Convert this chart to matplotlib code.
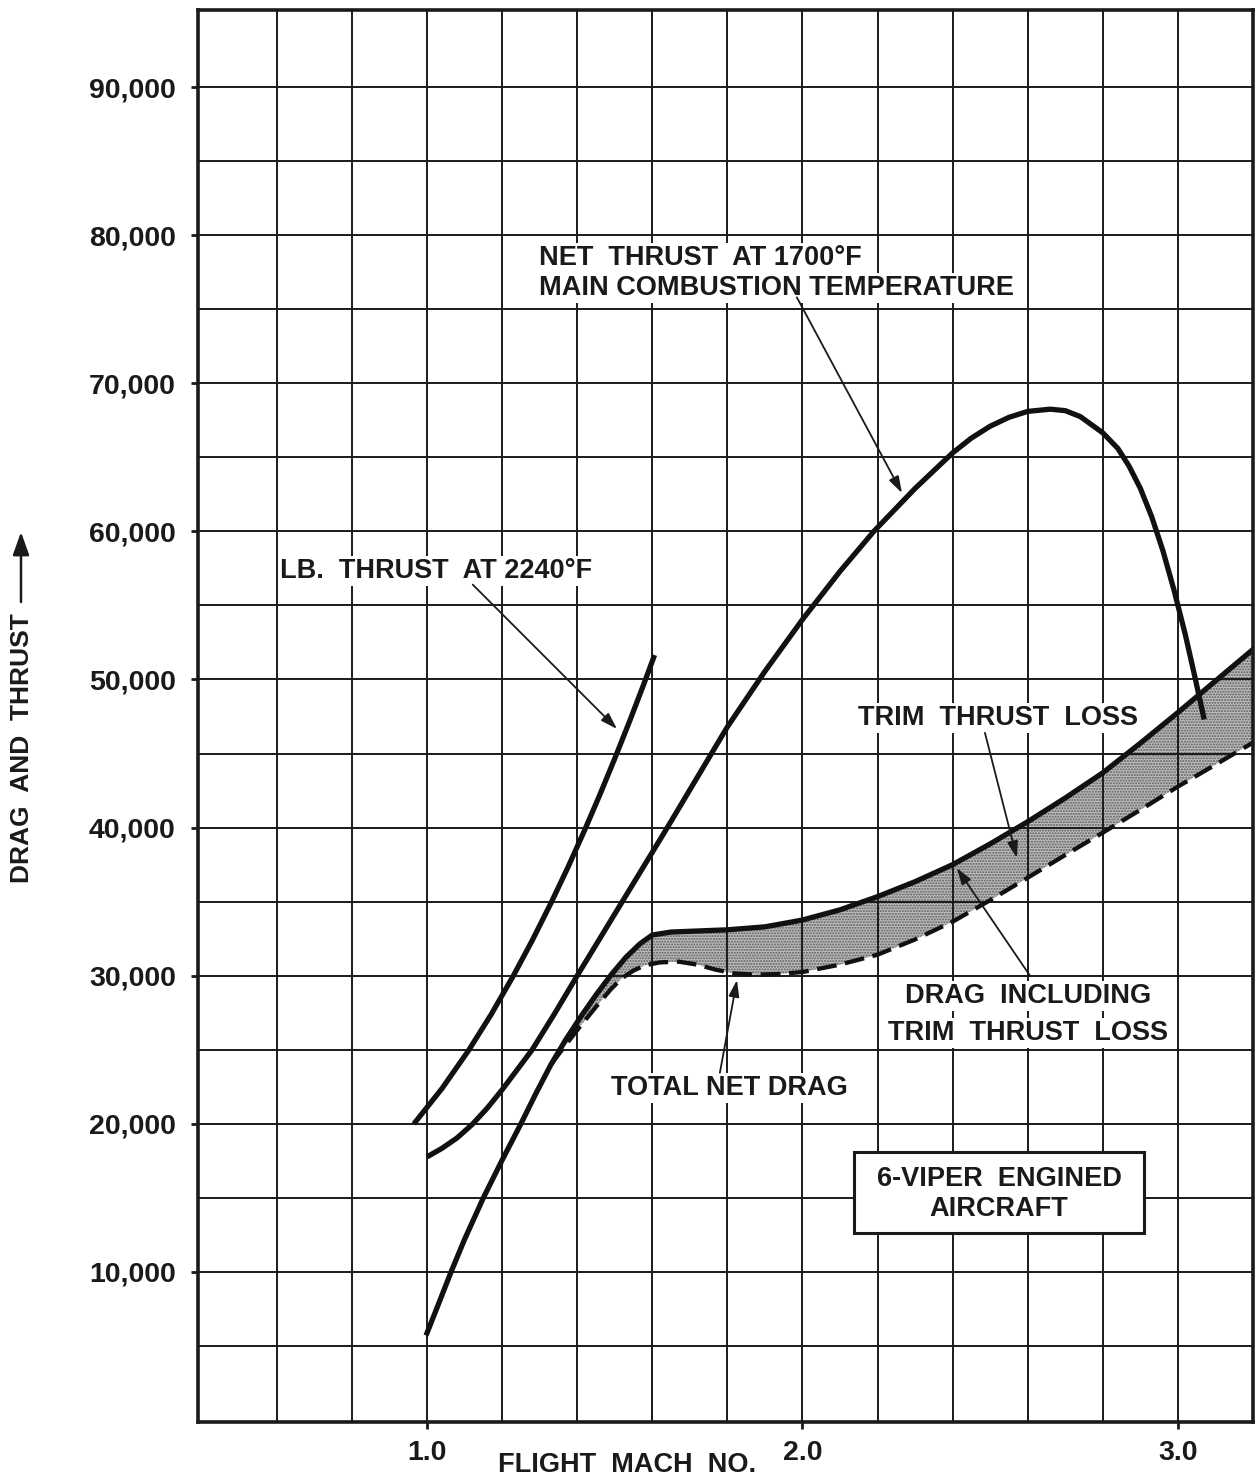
import matplotlib
matplotlib.use('Agg')
import matplotlib.pyplot as plt
from matplotlib.patches import Rectangle, FancyArrowPatch
from matplotlib.ticker import FixedLocator, FuncFormatter

# ---------------- data ----------------
thrust_2240_mach = [0.965, 1.04, 1.11, 1.17, 1.23, 1.28, 1.33, 1.375, 1.42,
                    1.46, 1.50, 1.54, 1.577, 1.606]
thrust_2240_lb = [20000, 22390, 24930, 27350, 30000, 32370, 34900, 37300, 39840,
                  42200, 44660, 47210, 49660, 51650]

thrust_1700_mach = [1.0, 1.04, 1.08, 1.12, 1.16, 1.2, 1.24, 1.28, 1.34, 1.40,
                    1.46, 1.52, 1.58, 1.64, 1.72, 1.8, 1.9, 2.0, 2.1, 2.19, 2.3,
                    2.4, 2.45, 2.5, 2.55, 2.6, 2.66, 2.7, 2.74, 2.8, 2.84, 2.87,
                    2.9, 2.93, 2.96, 2.99, 3.02, 3.045, 3.07]
thrust_1700_lb = [17770, 18350, 19050, 19950, 21050, 22300, 23650, 25000, 27450,
                  30000, 32500, 35000, 37500, 40000, 43400, 46800, 50550, 54050,
                  57300, 60000, 62900, 65300, 66300, 67100, 67700, 68100, 68250,
                  68150, 67750, 66650, 65600, 64400, 62900, 61000, 58700, 56000,
                  53000, 50200, 47300]

drag_trim_mach = [1.0, 1.03, 1.064, 1.1, 1.15, 1.2, 1.25, 1.29, 1.33, 1.37, 1.41,
                  1.45, 1.49, 1.53, 1.567, 1.6, 1.65, 1.7, 1.8, 1.9, 2.0, 2.1,
                  2.2, 2.3, 2.4, 2.5, 2.6, 2.7, 2.8, 2.9, 3.0, 3.1, 3.2]
drag_trim_lb = [5880, 7800, 10000, 12200, 15000, 17550, 20000, 22050, 24000,
                25700, 27250, 28700, 30050, 31250, 32150, 32750, 32950, 33000,
                33100, 33300, 33760, 34450, 35340, 36350, 37500, 38900, 40400,
                42000, 43700, 45700, 47770, 49900, 52030]

net_drag_mach = [1.33, 1.37, 1.41, 1.45, 1.49, 1.52, 1.55, 1.58, 1.62, 1.67,
                 1.72, 1.77, 1.82, 1.88, 1.94, 2.0, 2.1, 2.2, 2.3, 2.4, 2.5,
                 2.6, 2.7, 2.8, 2.9, 3.0, 3.1, 3.2]
net_drag_lb = [24000, 25350, 26650, 27900, 29100, 29850, 30350, 30700, 30900,
               30950, 30750, 30400, 30150, 30070, 30120, 30250, 30750, 31420,
               32450, 33650, 35100, 36620, 38150, 39660, 41200, 42770, 44250,
               45740]

y_major = [10000, 20000, 30000, 40000, 50000, 60000, 70000, 80000, 90000]
y_minor = [5000, 15000, 25000, 35000, 45000, 55000, 65000, 75000, 85000]
x_major = [1.0, 2.0, 3.0]
x_minor = [0.6, 0.8, 1.2, 1.4, 1.6, 1.8, 2.2, 2.4, 2.6, 2.8]

FONT = 'Liberation Sans'
plt.rcParams['font.family'] = [FONT, 'DejaVu Sans']
plt.rcParams['font.weight'] = 'bold'
plt.rcParams['hatch.linewidth'] = 1.0

INK = '#1a1a1a'
W, H = 1259, 1480
fig = plt.figure(figsize=(W / 100, H / 100), dpi=100)
fig.patch.set_facecolor('white')
ax = fig.add_axes([198 / W, 1 - 1422 / H, (1253 - 198) / W, (1422 - 10) / H])
ax.set_xlim(0.39, 3.2)
ax.set_ylim(-130, 95200)

# grid
ax.set_axisbelow('line')
ax.xaxis.set_major_locator(FixedLocator(x_major))
ax.xaxis.set_minor_locator(FixedLocator(x_minor))
ax.yaxis.set_major_locator(FixedLocator(y_major))
ax.yaxis.set_minor_locator(FixedLocator(y_minor))
ax.grid(True, which='both', color=INK, lw=1.4)
ax.yaxis.set_major_formatter(FuncFormatter(lambda v, p: f"{int(v):,}"))
ax.xaxis.set_major_formatter(FuncFormatter(lambda v, p: f"{v:.1f}"))
ax.tick_params(which='major', direction='out', length=5, width=2, color=INK,
               labelsize=20.5, pad=11, labelcolor=INK)
ax.tick_params(axis='x', which='major', pad=8)
ax.tick_params(which='minor', length=0)
for lab in ax.get_xticklabels() + ax.get_yticklabels():
    lab.set_fontweight('bold')
for s in ax.spines.values():
    s.set_linewidth(2.6)
    s.set_color(INK)

# shaded trim-thrust-loss band (stippled)
upper_m = [m for m in drag_trim_mach if m >= 1.33]
upper_v = [v for m, v in zip(drag_trim_mach, drag_trim_lb) if m >= 1.33]
poly_m = upper_m + net_drag_mach[::-1]
poly_v = upper_v + net_drag_lb[::-1]
ax.fill(poly_m, poly_v, facecolor='#bdbdbd', edgecolor='#5a5a5a', lw=0,
        hatch='......', zorder=1)

# curves
LW = 3.8
ax.plot(thrust_2240_mach, thrust_2240_lb, color='#111111', lw=LW,
        solid_capstyle='butt', solid_joinstyle='round', zorder=2.5)
ax.plot(thrust_1700_mach, thrust_1700_lb, color='#111111', lw=LW,
        solid_capstyle='butt', solid_joinstyle='round', zorder=2.5)
ax.plot(drag_trim_mach, drag_trim_lb, color='#111111', lw=LW,
        solid_joinstyle='round', zorder=2.5)
ax.plot(net_drag_mach, net_drag_lb, color='#111111', lw=3.1,
        dashes=(4.6, 2.0), zorder=2.4)

# annotations
tb = dict(facecolor='white', edgecolor='none', pad=1.5)
tk = dict(fontsize=19.5, fontweight='bold', color=INK, zorder=3, bbox=tb)
arrow = dict(arrowstyle='-|>,head_length=0.5,head_width=0.16', lw=1.3,
             color=INK, shrinkA=0, shrinkB=0, mutation_scale=20)

ax.text(0.609, 57330, "LB.  THRUST  AT 2240°F", ha='left', va='center', **tk)
ax.annotate('', xy=(1.506, 46660), xytext=(1.122, 56400), arrowprops=arrow,
            zorder=3)

ax.text(1.298, 78460, "NET  THRUST  AT 1700°F", ha='left', va='center', **tk)
ax.text(1.298, 76440, "MAIN COMBUSTION TEMPERATURE", ha='left', va='center', **tk)
ax.annotate('', xy=(2.265, 62590), xytext=(1.985, 75800), arrowprops=arrow,
            zorder=3)

ax.text(2.148, 47400, "TRIM  THRUST  LOSS", ha='left', va='center', **tk)
ax.annotate('', xy=(2.571, 37950), xytext=(2.486, 46400), arrowprops=arrow,
            zorder=3)

ax.text(2.60, 28630, "DRAG  INCLUDING", ha='center', va='center', **tk)
ax.text(2.60, 26130, "TRIM  THRUST  LOSS", ha='center', va='center', **tk)
ax.annotate('', xy=(2.411, 37270), xytext=(2.606, 30000), arrowprops=arrow,
            zorder=3)

ax.text(1.804, 22420, "TOTAL NET DRAG", ha='center', va='center', **tk)
ax.annotate('', xy=(1.8256, 29710), xytext=(1.780, 23450), arrowprops=arrow,
            zorder=3)

ax.add_patch(Rectangle((2.136, 12600), 2.911 - 2.136, 18130 - 12600,
                       facecolor='white', edgecolor=INK, lw=2.2, zorder=3))
tk2 = dict(tk)
tk2.pop('bbox')
ax.text(2.5235, 16300, "6-VIPER  ENGINED", ha='center', va='center', **tk2)
ax.text(2.5235, 14280, "AIRCRAFT", ha='center', va='center', **tk2)

# axis titles
fig.text(627 / W, 1 - 1465 / H, "FLIGHT  MACH  NO.", ha='center', va='center',
         fontsize=19.5, fontweight='bold', color=INK)
fig.text(22 / W, 1 - 748 / H, "DRAG  AND  THRUST", ha='center', va='center',
         rotation=90, fontsize=19, fontweight='bold', color=INK)
fig.add_artist(FancyArrowPatch(
    (21 / W, 1 - 602 / H), (21 / W, 1 - 532 / H), transform=fig.transFigure,
    arrowstyle='-|>,head_length=0.7,head_width=0.25', mutation_scale=20,
    lw=1.8, color=INK, shrinkA=0, shrinkB=0))

fig.savefig('out.png', dpi=100, facecolor='white')
